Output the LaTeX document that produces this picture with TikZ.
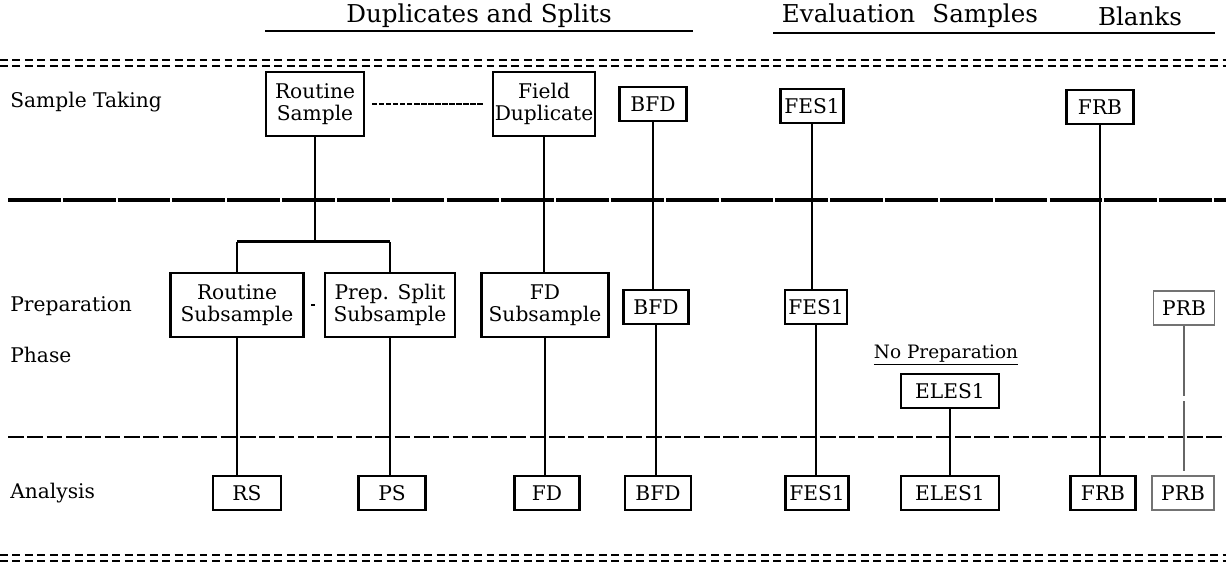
\documentclass[tikz,border=0pt]{standalone}
\usepackage{fontspec}
\setmainfont{DejaVu Serif}
\usetikzlibrary{calc}

\tikzset{
  phase/.style={anchor=west, inner sep=0pt, font=\fontsize{11.5}{13}\selectfont},
  head/.style={inner sep=0pt, font=\fontsize{14}{16}\selectfont},
  smp/.style={draw, line width=1.2pt, inner sep=1pt, align=center,
    font=\fontsize{11.5}{12.5}\selectfont, minimum height=0.68cm},
  twoline/.style={smp, minimum height=1.27cm},
  faint/.style={smp, draw=black!55, line width=0.6pt},
  dbl/.style={line width=1.3pt, dash pattern=on 4.5pt off 2.6pt},
  sep/.style={line width=1.8pt, dash pattern=on 30pt off 1.2pt},
  link/.style={line width=0.7pt}
}

\begin{document}
\begin{tikzpicture}[x=0.02cm, y=-0.02cm]
  \useasboundingbox (0,0) rectangle (1226,570);

  \node[head] (dupl) at (479,16) {Duplicates and Splits};
  \node[head] (eval) at (910,16) {Evaluation\hspace{0.7em}Samples};
  \node[head] (blnk) at (1140,16) {Blanks};
  \draw[line width=1.5pt] (265,31) -- (693,31);
  \draw[line width=1.5pt] (773,33) -- (1215,33);

  \draw[dbl] (0,60) -- (1226,60) (0,66) -- (1226,66);
  \draw[dbl] (0,555) -- (1226,555) (0,561) -- (1226,561);
  \draw[sep] (8,200) -- (1226,200);
  \draw[sep, line width=1.6pt, dash pattern=on 9pt off 2pt] (8,437) -- (1226,437);

  \node[phase] (take) at (10,102) {Sample Taking};
  \node[phase] (prep) at (10,306) {Preparation};
  \node[phase] (phas) at (10,355) {Phase};
  \node[phase] (anal) at (10,493) {Analysis};

  \node[twoline, minimum width=1.96cm] (rsamp) at (315,104) {Routine\\Sample};
  \node[twoline, minimum width=1.9cm] (fdup) at (544,104) {Field\\Duplicate};
  \node[smp, minimum width=1.34cm] (bfdA) at (653,104) {BFD};
  \node[smp, minimum width=1.26cm] (fesA) at (812,106) {FES1};
  \node[smp, minimum width=1.34cm] (frbA) at (1100,107) {FRB};

  \node[twoline, minimum width=2.66cm] (rsub) at (237,305) {Routine\\Subsample};
  \node[twoline, minimum width=2.6cm] (psub) at (390,305) {Prep. Split\\Subsample};
  \node[twoline, minimum width=2.54cm] (fdsub) at (545,305) {FD\\Subsample};
  \node[smp, minimum width=1.3cm] (bfdB) at (656,307) {BFD};
  \node[smp, minimum width=1.24cm] (fesB) at (816,307) {FES1};
  \node[faint, minimum width=1.22cm] (prbB) at (1184,308) {PRB};
  \node[phase, anchor=center, font=\fontsize{10.5}{12}\selectfont] (nopr) at (946,355) {\underline{No Preparation}};
  \node[smp, minimum width=1.96cm] (elesB) at (950,391) {ELES1};

  \node[smp, minimum width=1.36cm] (rs) at (247,493) {RS};
  \node[smp, minimum width=1.34cm] (ps) at (392,493) {PS};
  \node[smp, minimum width=1.3cm] (fd) at (547,493) {FD};
  \node[smp, minimum width=1.32cm] (bfdC) at (658,493) {BFD};
  \node[smp, minimum width=1.26cm] (fesC) at (817,493) {FES1};
  \node[smp, minimum width=1.96cm] (elesC) at (950,493) {ELES1};
  \node[smp, minimum width=1.3cm] (frbC) at (1103,493) {FRB};
  \node[faint, minimum width=1.24cm] (prbC) at (1183,493) {PRB};

  \coordinate (split) at ($(rsamp.south)+(0,105)$);
  \draw[link]
  (rsamp.south) -- (split)
  (rsub.north |- split) -- (rsub.north)
  (psub.north |- split) -- (psub.north)
  (fdup.south) -- (fdup.south |- fdsub.north)
  (rsub.south) -- (rsub.south |- rs.north)
  (psub.south) -- (psub.south |- ps.north)
  (fdsub.south) -- (fdsub.south |- fd.north)
  (bfdA.south) -- (bfdA.south |- bfdB.north)
  (bfdB.south) -- (bfdB.south |- bfdC.north)
  (fesA.south) -- (fesA.south |- fesB.north)
  (fesB.south) -- (fesB.south |- fesC.north)
  (frbA.south) -- (frbA.south |- frbC.north)
  (elesB.south) -- (elesB.south |- elesC.north);
  \draw[line width=1.6pt] (rsub.north |- split) -- (psub.north |- split);
  \draw[link, dash pattern=on 3pt off 1pt, shorten <=4pt, shorten >=5pt] (rsamp.east) -- (fdup.west);
  \draw[link] ($(rsub.east)!0.35!(psub.west)$) -- ($(rsub.east)!0.55!(psub.west)$);
  \draw[link, draw=black!60, dash pattern=on 40pt off 3pt] (prbB.south) -- (prbB.south |- prbC.north);
\end{tikzpicture}
\end{document}
